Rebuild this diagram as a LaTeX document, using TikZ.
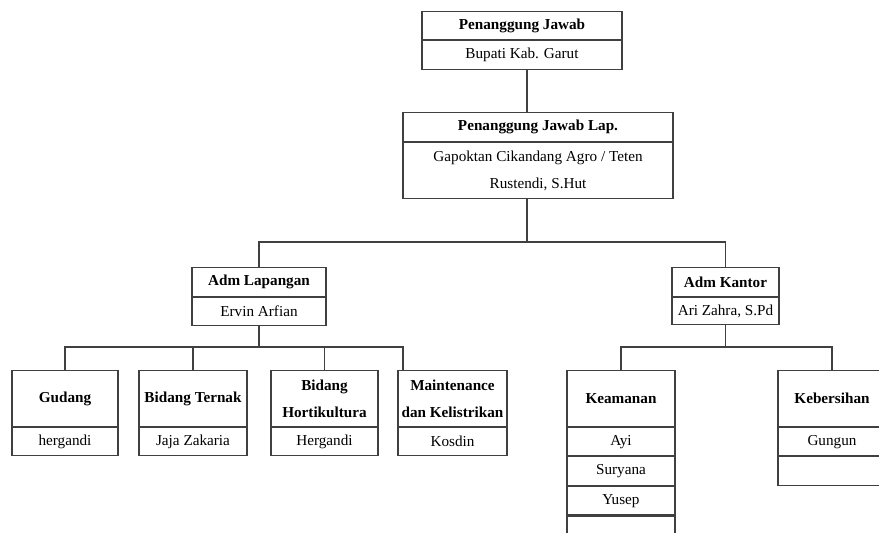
\documentclass[tikz,border=0pt]{standalone}
\usepackage{fontspec}
\setmainfont{Liberation Serif}
\begin{document}
\begin{tikzpicture}[x=0.5pt,y=-0.5pt,
  box/.style={draw=black!75, line width=0.55pt, rectangle, inner sep=0pt, align=center, anchor=north, font=\fontsize{7.6}{13.5}\selectfont},
  head/.style={box, font=\fontsize{7.6}{13.5}\selectfont\bfseries},
  link/.style={draw=black!75, line width=0.55pt}]
\useasboundingbox (0,0) rectangle (879,532);
\clip (0,0) rectangle (879,532);
% level 0
\node[head, minimum width=100pt, minimum height=14pt] (pj) at (522,11) {Penanggung Jawab};
\node[box, minimum width=100pt, minimum height=14.5pt] (pjr) at (pj.south) {Bupati Kab. Garut};
% level 1
\node[head, minimum width=135pt, minimum height=14.5pt] (lap) at (538,112) {Penanggung Jawab Lap.};
\node[box, minimum width=135pt, minimum height=28pt] (lapr) at (lap.south) {Gapoktan Cikandang Agro / Teten\\Rustendi, S.Hut};
% level 2
\node[head, minimum width=67pt, minimum height=14.5pt] (adml) at (259,267) {Adm Lapangan};
\node[box, minimum width=67pt, minimum height=14pt] (admlr) at (adml.south) {Ervin Arfian};
\node[head, minimum width=53.5pt, minimum height=14.5pt] (admk) at (725.5,267) {Adm Kantor};
\node[box, minimum width=53.5pt, minimum height=13.5pt] (admkr) at (admk.south) {Ari Zahra, S.Pd};
% level 3 left
\node[head, minimum width=53pt, minimum height=28pt] (gud) at (65,370) {Gudang};
\node[box, minimum width=53pt, minimum height=14pt] (gudr) at (gud.south) {hergandi};
\node[head, minimum width=54pt, minimum height=28pt] (ter) at (193,370) {Bidang Ternak};
\node[box, minimum width=54pt, minimum height=14pt] (terr) at (ter.south) {Jaja Zakaria};
\node[head, minimum width=53.5pt, minimum height=28pt] (hor) at (324.5,370) {Bidang\\Hortikultura};
\node[box, minimum width=53.5pt, minimum height=14pt] (horr) at (hor.south) {Hergandi};
\node[head, minimum width=54.5pt, minimum height=28pt] (mnt) at (452.5,370) {Maintenance\\dan Kelistrikan};
\node[box, minimum width=54.5pt, minimum height=14pt] (mntr) at (mnt.south) {Kosdin};
% level 3 right
\node[head, minimum width=54pt, minimum height=28pt] (kea) at (621,370) {Keamanan};
\node[box, minimum width=54pt, minimum height=14pt] (kea1) at (kea.south) {Ayi};
\node[box, minimum width=54pt, minimum height=14.5pt] (kea2) at (kea1.south) {Suryana};
\node[box, minimum width=54pt, minimum height=14pt] (kea3) at (kea2.south) {Yusep};
\node[box, minimum width=54pt, minimum height=14pt] (kea4) at (kea3.south) {};
\node[head, minimum width=54pt, minimum height=28pt] (keb) at (832,370) {Kebersihan};
\node[box, minimum width=54pt, minimum height=14pt] (keb1) at (keb.south) {Gungun};
\node[box, minimum width=54pt, minimum height=14.5pt] (keb2) at (keb1.south) {};
% connectors
\coordinate (t1) at (527,242);
\coordinate (t2) at (259,347);
\coordinate (t3) at (725.5,347);
\coordinate (m) at (403,370);
\draw[link] (pjr.south -| t1) -- (lap.north -| t1);
\draw[link] (lapr.south -| t1) -- (t1);
\draw[link] (adml.north) -- (adml.north |- t1) -- (admk.north |- t1) -- (admk.north);
\draw[link] (admlr.south) -- (t2);
\draw[link] (gud.north) -- (gud.north |- t2) -- (t2 -| m) -- (m);
\draw[link] (ter.north) -- (ter.north |- t2);
\draw[link] (hor.north) -- (hor.north |- t2);
\draw[link] (admkr.south) -- (t3);
\draw[link] (kea.north) -- (kea.north |- t3) -- (keb.north |- t3) -- (keb.north);
\end{tikzpicture}
\end{document}
